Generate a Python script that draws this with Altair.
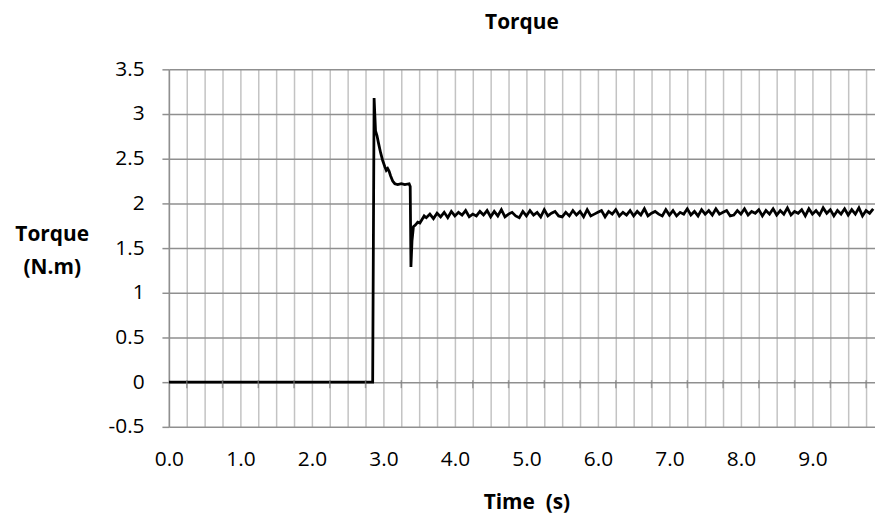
import altair as alt
import pandas as pd

# ---- data ----
trans_t = [0.00, 2.85, 2.87, 2.89, 2.91, 2.93, 2.96, 2.99, 3.02, 3.04, 3.06, 3.08,
           3.10, 3.13, 3.16, 3.20, 3.25, 3.30, 3.36, 3.375, 3.385, 3.40, 3.42,
           3.45, 3.48, 3.51, 3.54, 3.57]
trans_v = [0.00, 0.00, 3.18, 2.81, 2.76, 2.68, 2.57, 2.48, 2.41, 2.37, 2.39, 2.36,
           2.31, 2.25, 2.22, 2.21, 2.22, 2.21, 2.22, 2.19, 1.29, 1.58, 1.74,
           1.76, 1.79, 1.78, 1.82, 1.86]

steady_t = [3.60, 3.65, 3.70, 3.75, 3.80, 3.85, 3.90, 3.95, 4.00,
            4.05, 4.10, 4.15, 4.20, 4.25, 4.30, 4.35, 4.40, 4.45, 4.50,
            4.55, 4.60, 4.65, 4.70, 4.75, 4.80, 4.85, 4.90, 4.95, 5.00,
            5.05, 5.10, 5.15, 5.20, 5.25, 5.30, 5.35, 5.40, 5.45, 5.50,
            5.55, 5.60, 5.65, 5.70, 5.75, 5.80, 5.85, 5.90, 5.95, 6.00,
            6.05, 6.10, 6.15, 6.20, 6.25, 6.30, 6.35, 6.40, 6.45, 6.50,
            6.55, 6.60, 6.65, 6.70, 6.75, 6.80, 6.85, 6.90, 6.95, 7.00,
            7.05, 7.10, 7.15, 7.20, 7.25, 7.30, 7.35, 7.40, 7.45, 7.50,
            7.55, 7.60, 7.65, 7.70, 7.75, 7.80, 7.85, 7.90, 7.95, 8.00,
            8.05, 8.10, 8.15, 8.20, 8.25, 8.30, 8.35, 8.40, 8.45, 8.50,
            8.55, 8.60, 8.65, 8.70, 8.75, 8.80, 8.85, 8.90, 8.95, 9.00,
            9.05, 9.10, 9.15, 9.20, 9.25, 9.30, 9.35, 9.40, 9.45, 9.50,
            9.55, 9.60, 9.65, 9.70, 9.75, 9.80, 9.85]
steady_v = [1.84, 1.88, 1.83, 1.89, 1.85, 1.90, 1.84, 1.91, 1.86,
            1.90, 1.87, 1.92, 1.85, 1.88, 1.86, 1.91, 1.87, 1.92, 1.85,
            1.91, 1.86, 1.93, 1.85, 1.88, 1.90, 1.86, 1.84, 1.91, 1.86,
            1.92, 1.87, 1.90, 1.85, 1.93, 1.86, 1.89, 1.91, 1.86, 1.85,
            1.90, 1.86, 1.92, 1.87, 1.91, 1.85, 1.93, 1.86, 1.88, 1.90,
            1.92, 1.85, 1.91, 1.88, 1.93, 1.86, 1.90, 1.87, 1.92, 1.86,
            1.91, 1.87, 1.94, 1.86, 1.89, 1.91, 1.88, 1.86, 1.93, 1.87,
            1.92, 1.86, 1.90, 1.88, 1.94, 1.87, 1.91, 1.86, 1.93, 1.88,
            1.92, 1.87, 1.94, 1.88, 1.90, 1.92, 1.86, 1.87, 1.92, 1.88,
            1.94, 1.87, 1.91, 1.89, 1.93, 1.86, 1.92, 1.88, 1.94, 1.87,
            1.92, 1.88, 1.95, 1.87, 1.91, 1.89, 1.93, 1.86, 1.94, 1.88,
            1.92, 1.87, 1.95, 1.89, 1.93, 1.86, 1.92, 1.88, 1.94, 1.87,
            1.93, 1.88, 1.95, 1.86, 1.92, 1.89, 1.94]

y_ticks = [-0.5, 0, 0.5, 1, 1.5, 2, 2.5, 3, 3.5]
x_grid = [i * 0.25 for i in range(0, 40)]               # gridline positions (every 0.25 s)
x_cross_ticks = [0.25 + i * 0.5 for i in range(0, 20)]  # axis tick marks on y = 0

df = pd.DataFrame({"t": trans_t + steady_t, "torque": trans_v + steady_v})
df_ticks = pd.DataFrame({"t": x_cross_ticks, "torque": [0] * len(x_cross_ticks)})

FONT = "Open Sans"

x_scale = alt.Scale(domain=[0, 9.875], nice=False, zero=False)
y_scale = alt.Scale(domain=[-0.5, 3.5], nice=False, zero=False)

x_axis = alt.Axis(
    values=x_grid,
    labelExpr="abs(datum.value - round(datum.value)) < 0.001 ? format(datum.value, '.1f') : ''",
    grid=True, gridColor="#c3c3c3", gridWidth=1.5,
    ticks=False, domain=False,
    labelFont=FONT, labelFontSize=21, labelColor="#000000", labelPadding=22,
    labelOverlap=False, labelFlush=False, labelBound=False,
    title="Time \u00a0(s)", titleFont=FONT, titleFontSize=21, titleFontWeight="bold",
    titleColor="#000000", titleX=360, titleY=82, titleAlign="center",
    titleBaseline="alphabetic", titleAnchor="middle",
)
y_axis = alt.Axis(
    values=y_ticks,
    labelExpr="datum.value < 0 ? '-' + format(-datum.value, '') : format(datum.value, '')",
    grid=True, gridColor="#8f8f8f", gridWidth=1.5,
    domain=True, domainColor="#8f8f8f", domainWidth=1.5,
    ticks=True, tickColor="#8f8f8f", tickSize=7, tickWidth=1.5,
    labelFont=FONT, labelFontSize=21, labelColor="#000000", labelPadding=18,
    labelOverlap=False, labelFlush=False, labelBound=False,
    title=["Torque", "(N.m)"], titleFont=FONT, titleFontSize=21,
    titleFontWeight="bold", titleColor="#000000", titleAngle=0,
    titleX=-118, titleY=172, titleAlign="center", titleBaseline="alphabetic",
    titleLineHeight=34,
)

line = alt.Chart(df).mark_line(color="#000000", strokeWidth=2.8, clip=True).encode(
    x=alt.X("t:Q", scale=x_scale, axis=x_axis),
    y=alt.Y("torque:Q", scale=y_scale, axis=y_axis),
    order="t:Q",
)

cross = alt.Chart(df_ticks).mark_tick(
    color="#7f7f7f", orient="vertical", size=8, thickness=1.5, yOffset=2
).encode(
    x=alt.X("t:Q", scale=x_scale, axis=x_axis),
    y=alt.Y("torque:Q", scale=y_scale, axis=y_axis),
)

chart = alt.layer(line, cross).properties(
    width=711,
    height=360,
    autosize=alt.AutoSizeParams(type="none"),
    padding={"left": 162, "top": 60, "right": 0, "bottom": 88},
    title=alt.TitleParams(
        text="Torque", font=FONT, fontSize=21, fontWeight="bold", color="#000000",
        anchor="middle", frame="group", baseline="alphabetic", offset=9,
    ),
    background="#ffffff",
).configure_view(stroke=None)

chart.save("out.html", embed_options={"renderer": "svg", "actions": False})
